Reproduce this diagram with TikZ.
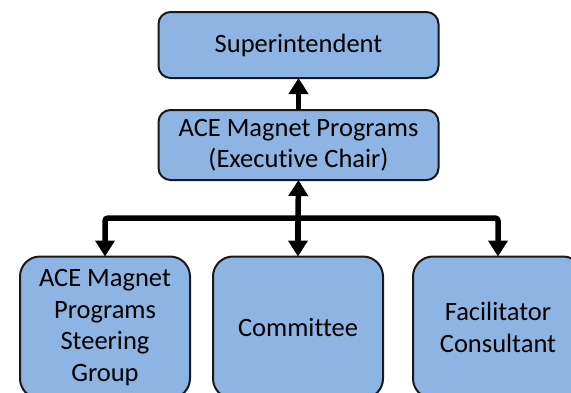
\documentclass[tikz,border=0pt]{standalone}
\usepackage{fontspec}
\setmainfont{Carlito}[Ligatures={NoCommon}]
\usetikzlibrary{arrows.meta}
\definecolor{boxfill}{HTML}{8EB4E3}
\begin{document}
\begin{tikzpicture}[x=1pt,y=-1pt,
  box/.style={draw=black!90, line width=2pt, fill=boxfill, align=center,
    font=\fontsize{26.5}{31.5}\selectfont, inner sep=0pt, outer sep=0pt},
  topbox/.style={box, rounded corners=12pt, minimum width=280pt},
  lowbox/.style={box, rounded corners=20pt, minimum width=170pt, minimum height=142pt},
  conn/.style={line width=5.5pt, rounded corners=3pt, -{Triangle[width=19pt,length=16pt]}}]
\useasboundingbox (0,0) rectangle (571,392);
\clip (0,0) rectangle (571,392);
\node[topbox, minimum height=66pt] (sup) at (298.5,45) {Superintendent};
\node[topbox, minimum height=70pt] (exec) at (298.5,145) {ACE Magnet Programs\\(Executive Chair)};
\node[lowbox] (left) at (105,327.5) {ACE Magnet\\Programs\\Steering\\Group};
\node[lowbox] (mid) at (298,327.5) {Committee};
\node[lowbox] (right) at (498,327.5) {Facilitator\\Consultant};
\coordinate (j) at (298,218);
\draw[conn] (exec.north) -- (sup.south);
\draw[conn] (j) -- (exec.south);
\draw[conn] (j) -| (left.north);
\draw[conn] (j) -- (mid.north);
\draw[conn] (j) -| (right.north);
\end{tikzpicture}
\end{document}
